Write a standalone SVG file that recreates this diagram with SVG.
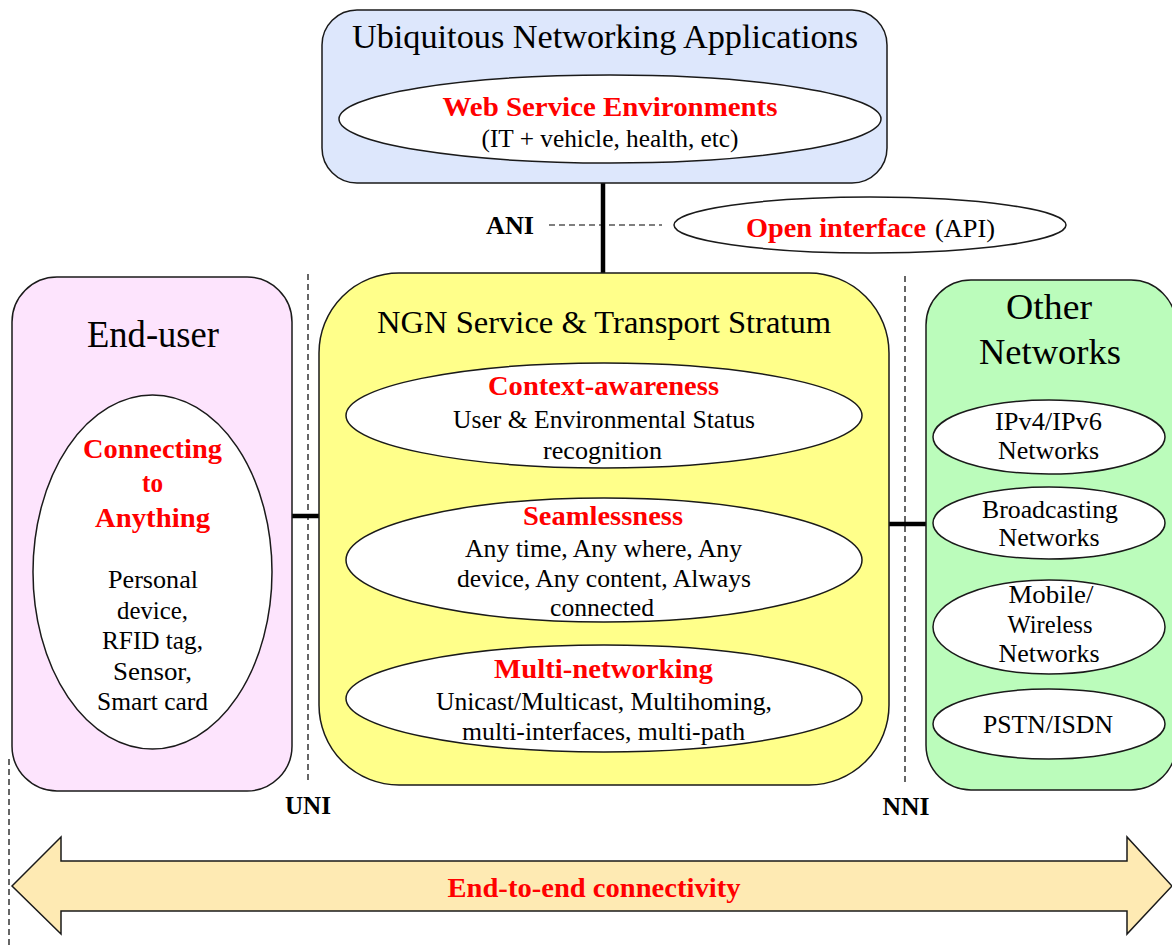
<svg xmlns="http://www.w3.org/2000/svg" width="1172" height="945" viewBox="0 0 1172 945">
<style>
text{font-family:"Liberation Serif","Times New Roman",serif;fill:#000;text-anchor:middle}
.r{fill:#ff0000;font-weight:bold}
.b{font-weight:bold}
.box{stroke:#1a1a1a;stroke-width:1.5}
.ell{fill:#fff;stroke:#1a1a1a;stroke-width:1.5}
.dash{stroke:#000;stroke-width:1.2;stroke-dasharray:6 4;fill:none}
.thick{stroke:#000;stroke-width:4.5;fill:none}
</style>
<rect width="1172" height="945" fill="#fff"/>

<g id="connectors">
<line class="thick" x1="603" y1="183" x2="603" y2="274"/>
<line class="thick" x1="291" y1="516" x2="320" y2="516"/>
<line class="thick" x1="888" y1="524" x2="927" y2="524"/>
<line class="dash" x1="549" y1="225" x2="662" y2="225"/>
<line class="dash" x1="308" y1="274" x2="308" y2="783"/>
<line class="dash" x1="905" y1="276" x2="905" y2="785"/>
<line class="dash" x1="9" y1="759" x2="9" y2="945"/>
</g>

<g id="apps">
<rect class="box" x="322" y="10" width="565" height="173" rx="35" fill="#dde7fc"/>
<text x="605" y="48" font-size="33" textLength="506" lengthAdjust="spacingAndGlyphs">Ubiquitous Networking Applications</text>
<ellipse class="ell" cx="610" cy="119" rx="271" ry="44"/>
<text class="r" x="610" y="116" font-size="28" textLength="335" lengthAdjust="spacingAndGlyphs">Web Service Environments</text>
<text x="610" y="147" font-size="25" textLength="257" lengthAdjust="spacingAndGlyphs">(IT + vehicle, health, etc)</text>
</g>

<g id="ani">
<text class="b" x="510" y="234" font-size="26" textLength="48" lengthAdjust="spacingAndGlyphs">ANI</text>
</g>

<g id="open-interface">
<ellipse class="ell" cx="870" cy="225" rx="196" ry="28"/>
<text class="r" x="836" y="237" font-size="28" textLength="180" lengthAdjust="spacingAndGlyphs">Open interface</text>
<text x="965" y="237" font-size="26" textLength="60" lengthAdjust="spacingAndGlyphs">(API)</text>
</g>

<g id="end-user">
<rect class="box" x="12" y="277" width="280" height="514" rx="45" fill="#fde4fd"/>
<text x="153" y="347" font-size="37" textLength="132" lengthAdjust="spacingAndGlyphs">End-user</text>
<ellipse class="ell" cx="152.5" cy="572" rx="119.5" ry="177"/>
<text class="r" x="152.5" y="458" font-size="28" textLength="139" lengthAdjust="spacingAndGlyphs">Connecting</text>
<text class="r" x="152.5" y="492" font-size="28" textLength="21" lengthAdjust="spacingAndGlyphs">to</text>
<text class="r" x="152.5" y="527" font-size="28" textLength="115" lengthAdjust="spacingAndGlyphs">Anything</text>
<text x="153" y="588" font-size="26" textLength="90" lengthAdjust="spacingAndGlyphs">Personal</text>
<text x="152.5" y="619" font-size="26" textLength="71" lengthAdjust="spacingAndGlyphs">device,</text>
<text x="152.5" y="649" font-size="26" textLength="101" lengthAdjust="spacingAndGlyphs">RFID tag,</text>
<text x="152.5" y="680" font-size="26" textLength="79" lengthAdjust="spacingAndGlyphs">Sensor,</text>
<text x="152.5" y="710" font-size="26" textLength="111" lengthAdjust="spacingAndGlyphs">Smart card</text>
</g>

<g id="uni">
<text class="b" x="308" y="814" font-size="26" textLength="46" lengthAdjust="spacingAndGlyphs">UNI</text>
</g>

<g id="ngn">
<rect class="box" x="319" y="273" width="570" height="512" rx="80" fill="#ffff8a"/>
<text x="604" y="333" font-size="32" textLength="454" lengthAdjust="spacingAndGlyphs">NGN Service &amp; Transport Stratum</text>
</g>

<g id="context-awareness">
<ellipse class="ell" cx="604" cy="415.5" rx="258" ry="52.5"/>
<text class="r" x="603.5" y="395" font-size="27" textLength="231" lengthAdjust="spacingAndGlyphs">Context-awareness</text>
<text x="604" y="428" font-size="25" textLength="302" lengthAdjust="spacingAndGlyphs">User &amp; Environmental Status</text>
<text x="602.5" y="459" font-size="25" textLength="119" lengthAdjust="spacingAndGlyphs">recognition</text>
</g>

<g id="seamlessness">
<ellipse class="ell" cx="604" cy="560" rx="258" ry="62"/>
<text class="r" x="603" y="525" font-size="27" textLength="160" lengthAdjust="spacingAndGlyphs">Seamlessness</text>
<text x="603.5" y="557" font-size="25" textLength="277" lengthAdjust="spacingAndGlyphs">Any time, Any where, Any</text>
<text x="604" y="587" font-size="25" textLength="294" lengthAdjust="spacingAndGlyphs">device, Any content, Always</text>
<text x="602" y="616" font-size="25" textLength="104" lengthAdjust="spacingAndGlyphs">connected</text>
</g>

<g id="multi-networking">
<ellipse class="ell" cx="604" cy="698.5" rx="258" ry="53.5"/>
<text class="r" x="603.5" y="678" font-size="27" textLength="219" lengthAdjust="spacingAndGlyphs">Multi-networking</text>
<text x="604" y="710" font-size="25" textLength="336" lengthAdjust="spacingAndGlyphs">Unicast/Multicast, Multihoming,</text>
<text x="603.5" y="740" font-size="25" textLength="283" lengthAdjust="spacingAndGlyphs">multi-interfaces, multi-path</text>
</g>

<g id="nni">
<text class="b" x="906" y="815" font-size="26" textLength="47" lengthAdjust="spacingAndGlyphs">NNI</text>
</g>

<g id="other-networks">
<rect class="box" x="926" y="280" width="250" height="510" rx="45" fill="#bbfcbb"/>
<text x="1049" y="319" font-size="35" textLength="86" lengthAdjust="spacingAndGlyphs">Other</text>
<text x="1050" y="364" font-size="35" textLength="142" lengthAdjust="spacingAndGlyphs">Networks</text>
</g>

<g id="ipv4-ipv6">
<ellipse class="ell" cx="1049" cy="437" rx="116" ry="37"/>
<text x="1048.5" y="430" font-size="25" textLength="107" lengthAdjust="spacingAndGlyphs">IPv4/IPv6</text>
<text x="1048.5" y="459" font-size="25" textLength="101" lengthAdjust="spacingAndGlyphs">Networks</text>
</g>

<g id="broadcasting">
<ellipse class="ell" cx="1049" cy="523" rx="116" ry="36"/>
<text x="1050" y="518" font-size="25" textLength="136" lengthAdjust="spacingAndGlyphs">Broadcasting</text>
<text x="1049" y="546" font-size="25" textLength="101" lengthAdjust="spacingAndGlyphs">Networks</text>
</g>

<g id="mobile-wireless">
<ellipse class="ell" cx="1049" cy="627" rx="116" ry="47"/>
<text x="1051" y="603" font-size="25" textLength="85" lengthAdjust="spacingAndGlyphs">Mobile/</text>
<text x="1050" y="633" font-size="25" textLength="85" lengthAdjust="spacingAndGlyphs">Wireless</text>
<text x="1049" y="662" font-size="25" textLength="101" lengthAdjust="spacingAndGlyphs">Networks</text>
</g>

<g id="pstn-isdn">
<ellipse class="ell" cx="1049" cy="724" rx="116" ry="35"/>
<text x="1048" y="733" font-size="25" textLength="130" lengthAdjust="spacingAndGlyphs">PSTN/ISDN</text>
</g>

<g id="end-to-end">
<polygon points="12,886 61,837 61,861 1127,861 1127,837 1172,886 1127,934 1127,911 61,911 61,934" fill="#feeab3" stroke="#1a1a1a" stroke-width="1.5" stroke-linejoin="miter"/>
<text class="r" x="594" y="897" font-size="28" textLength="293" lengthAdjust="spacingAndGlyphs">End-to-end connectivity</text>
</g>
</svg>
